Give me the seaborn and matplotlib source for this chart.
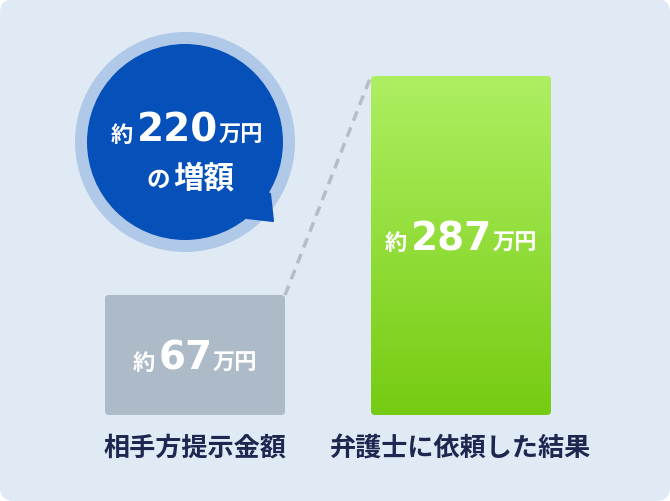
import numpy as np
import pandas as pd
import matplotlib
matplotlib.use("Agg")
import matplotlib.pyplot as plt
import seaborn as sns
from matplotlib.patches import FancyBboxPatch, Circle, Polygon
from matplotlib.colors import LinearSegmentedColormap

# ---------------- data ----------------
categories = ["相手方提示金額", "弁護士に依頼した結果"]
amounts = [67, 287]            # 万円
bar_lengths = [120, 339]       # drawn bar lengths (px)
increase = 220                 # 万円
prefix = "約"
unit = "万円"
increase_caption = ("の", "増額")

# ---------------- style ----------------
W, H = 670, 502
BG = "#dfeaf5"
GRAY = "#adbac7"
GREEN_TOP, GREEN_BOT = "#aeef62", "#76cb12"
BLUE, RING = "#0650b9", "#b1c9e8"
NAVY = "#1f2750"
CJK = ["Noto Sans CJK JP", "DejaVu Sans"]
NUM = ["DejaVu Sans"]

sns.set_theme(style="white")
plt.rcParams["font.family"] = CJK

fig = plt.figure(figsize=(W / 100, H / 100), dpi=100, facecolor="white")

# background card
bg = fig.add_axes([0, 0, 1, 1], zorder=0)
bg.set_xlim(0, W)
bg.set_ylim(H, 0)
bg.axis("off")
bg.add_patch(FancyBboxPatch((0, 0), W, H, boxstyle="round,pad=0,rounding_size=14",
                            fc=BG, ec="none"))

# bars (seaborn)
px_per_cat = 266.0
first_center = 195.0
baseline_px = 416.0
ax = fig.add_axes([0, 0, 1, 1], zorder=1)
ax.patch.set_alpha(0)
df = pd.DataFrame({"category": categories, "length": bar_lengths})
sns.barplot(data=df, x="category", y="length", hue="category",
            palette=[GRAY, GREEN_BOT], width=180 / px_per_cat, saturation=1,
            legend=False, ax=ax)
xlim = (-first_center / px_per_cat, (W - first_center) / px_per_cat)
ylim = (-(H - baseline_px), baseline_px)

bars = list(ax.patches)
rounded = []
for i, p in enumerate(bars):
    x, y, w, h = p.get_x(), p.get_y(), p.get_width(), p.get_height()
    p.set_visible(False)
    rp = FancyBboxPatch((x, y), w, h,
                        boxstyle=f"round,pad=0,rounding_size={4 / px_per_cat}",
                        mutation_aspect=px_per_cat,
                        fc=GRAY if i == 0 else "none", ec="none", zorder=2)
    ax.add_patch(rp)
    rounded.append((rp, x, y, w, h))

# gradient fill for the second bar
rp, x, y, w, h = rounded[1]
cmap = LinearSegmentedColormap.from_list("g", [GREEN_BOT, GREEN_TOP])
grad = np.linspace(0, 1, 256).reshape(-1, 1)
im = ax.imshow(grad, extent=(x, x + w, y, y + h), origin="lower", aspect="auto",
               cmap=cmap, zorder=2, interpolation="bilinear")
im.set_clip_path(rp)

# dashed connector between bar tops
_, x0, y0, w0, h0 = rounded[0]
_, x1, y1, w1, h1 = rounded[1]
ax.plot([x0 + w0, x1], [y0 + h0, y1 + h1], color="#b4bec9", lw=2.5,
        dashes=(2.9, 2.0), dash_capstyle="butt", zorder=1)

ax.set_xlim(*xlim)
ax.set_ylim(*ylim)
ax.axis("off")

# overlay in pixel coordinates
ov = fig.add_axes([0, 0, 1, 1], zorder=2)
ov.patch.set_alpha(0)
ov.set_xlim(0, W)
ov.set_ylim(H, 0)
ov.axis("off")

# speech bubble
cx, cy = 185, 143
ov.add_patch(Circle((cx, cy), 110, fc=RING, ec="none"))
ov.add_patch(Circle((cx, cy), 98, fc=BLUE, ec="none"))
ov.add_patch(Polygon([(cx + 58, cy + 38), (cx + 85, cy + 52), (cx + 88, cy + 79), (cx + 62, cy + 76)],
                     closed=True, fc=BLUE, ec=BLUE, lw=1.5, joinstyle="round"))

renderer = fig.canvas.get_renderer()


def draw_run(center_x, base_y, pieces, color):
    texts, sizes = [], []
    for s, size, fam, gap in pieces:
        t = ov.text(0, base_y, s, fontsize=size, family=fam, weight="bold",
                    color=color, ha="left", va="baseline", zorder=5)
        texts.append(t)
        sizes.append((t.get_window_extent(renderer).width, gap))
    total = sum(wd for wd, _ in sizes) + sum(g for _, g in sizes[:-1])
    xx = center_x - total / 2
    for t, (wd, g) in zip(texts, sizes):
        t.set_x(xx)
        xx += wd + g


def amount_pieces(v):
    return [(prefix, 16, CJK, 3.5), (str(v), 28, NUM, 0.5), (unit, 16, CJK, 0)]


# bubble text
draw_run(cx + 2, cy - 1, amount_pieces(increase), "white")
draw_run(cx + 5, cy + 44, [(increase_caption[0], 17, CJK, 3), (increase_caption[1], 22, CJK, 0)], "white")

# bar value labels and category labels
label_drop = [74, 173]  # px from bar top to label baseline
for i, (rp, x, y, w, h) in enumerate(rounded):
    dx, dy_top = ax.transData.transform((x + w / 2, y + h))
    top_px = H - dy_top
    draw_run(dx, top_px + label_drop[i], amount_pieces(amounts[i]), "white")
    dx0, dy0 = ax.transData.transform((x + w / 2, 0))
    draw_run(dx, H - dy0 + 40, [(categories[i], 18.8, CJK, 0)], NAVY)

fig.savefig("out.png", dpi=100, facecolor="white")
